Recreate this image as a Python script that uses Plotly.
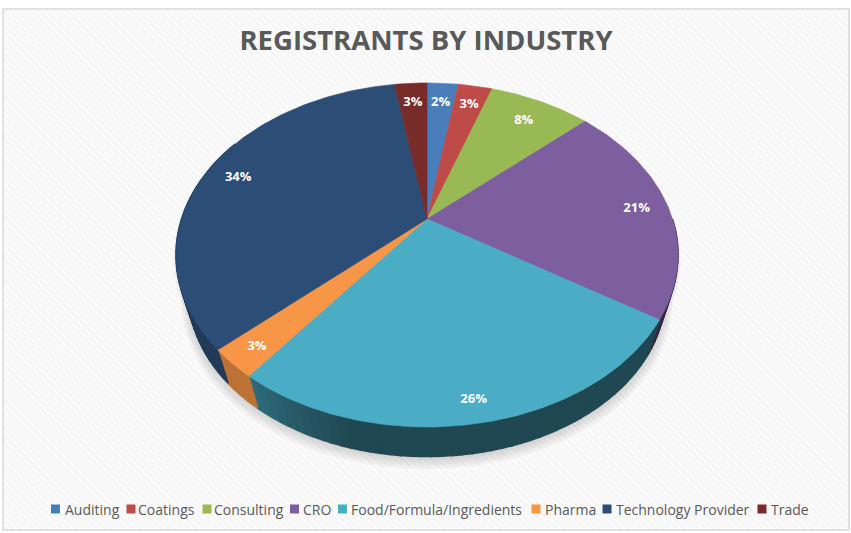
import math
import plotly.graph_objects as go

# ---- data ----
categories = ["Auditing", "Coatings", "Consulting", "CRO", "Food/Formula/Ingredients",
              "Pharma", "Technology Provider", "Trade"]
values = [2.45, 2.7, 8.0, 21.0, 26.2, 2.7, 34.4, 2.55]
colors = ["#4a7ebb", "#be4b48", "#98b954", "#7d5fa0", "#4bacc6", "#f79646", "#2c4d75", "#772c2a"]
title_text = "REGISTRANTS BY INDUSTRY"

# ---- layout geometry (pixels of the 851x533 page) ----
W, H = 851, 533
CX, CY = 427, 219          # pie apex on the page
A, B, K = 245.5, 164.5, 0.209   # perspective disc parameters
WALL_SCALE, WALL_DROP = 0.95, 40
label_radius = [0.85, 0.85, 0.83, 0.87, 0.90, 0.89, 0.86, 0.85]
LABEL_DROP = 2
legend_swatch_x = [55.5, 131, 207, 294.5, 342.5, 536, 607, 762]
legend_text_x = [65, 138, 214, 303, 351, 545, 616, 771]
LEGEND_Y = 509


def rgb(hex_color, f=1.0):
    r, g, b = (int(hex_color[i:i + 2], 16) for i in (1, 3, 5))
    return f"rgb({round(r * f)},{round(g * f)},{round(b * f)})"


def disc(theta_deg, r=1.0, scale=1.0, drop=0.0):
    t = math.radians(theta_deg)
    x, y = r * math.sin(t), r * math.cos(t)
    w = 1 + K * y
    return CX + scale * A * x / w, CY + drop - scale * B * y / w


def wall_shade(theta):
    if theta < 195:
        return 0.42
    if theta < 217.5:
        return 0.42 + 0.20 * (theta - 195) / 22.5
    return 0.76


def arc(a0, a1, **kw):
    n = max(2, int(abs(a1 - a0)) + 2)
    return [disc(a0 + (a1 - a0) * i / (n - 1), **kw) for i in range(n)]


total = sum(values)
edges = [0.0]
for v in values:
    edges.append(edges[-1] + v / total * 360)

fig = go.Figure()


def poly(pts, color, line=None, width=0.6):
    xs = [p[0] for p in pts] + [pts[0][0]]
    ys = [p[1] for p in pts] + [pts[0][1]]
    fig.add_trace(go.Scatter(x=xs, y=ys, mode="lines", fill="toself", fillcolor=color,
                             line=dict(width=width if line else 0, color=line or color),
                             hoverinfo="skip", showlegend=False))


# striped chart panel
fig.add_trace(go.Scatter(
    x=[3, 849, 849, 3, 3], y=[9, 9, 530, 530, 9], mode="lines", fill="toself",
    fillcolor="#ffffff", line=dict(color="#d9d9d9", width=1.5),
    fillpattern=dict(shape="\\", size=5, solidity=0.45, fgcolor="#f0f0f0", bgcolor="#fbfbfb"),
    hoverinfo="skip", showlegend=False))

# soft shadow beneath the pie
for i in range(6):
    grow = 1.0 + 0.006 * i
    poly(arc(0, 360, scale=WALL_SCALE * grow, drop=WALL_DROP + 2 + i), "rgba(60,60,60,0.035)")
for i in range(3):
    poly(arc(0, 360, scale=1 + 0.005 * i, drop=2 + i), "rgba(60,60,60,0.04)")

# side wall: thin shaded strips following the slices
for c, a0, a1 in zip(colors, edges[:-1], edges[1:]):
    lo, hi = max(a0, 90), min(a1, 300)
    if hi <= lo:
        continue
    steps = max(1, int((hi - lo) / 2))
    for j in range(steps):
        s0 = lo + (hi - lo) * j / steps
        s1 = lo + (hi - lo) * (j + 1) / steps
        col = rgb(c, wall_shade((s0 + s1) / 2))
        pts = arc(s0, s1) + arc(s1, s0, scale=WALL_SCALE, drop=WALL_DROP)
        poly(pts, col, line=col, width=1.5)

# top face
for c, a0, a1 in zip(colors, edges[:-1], edges[1:]):
    poly([(CX, CY)] + arc(a0, a1), c, line=c)

# percentage labels
mids = [(a0 + a1) / 2 for a0, a1 in zip(edges[:-1], edges[1:])]
label_pts = [disc(m, r=r, drop=LABEL_DROP) for m, r in zip(mids, label_radius)]
fig.add_trace(go.Scatter(
    x=[p[0] for p in label_pts], y=[p[1] for p in label_pts], mode="text",
    text=[f"{round(v / total * 100)}%" for v in values],
    textposition="middle center",
    textfont=dict(family="Open Sans", size=13, color="#ffffff", weight="bold"),
    hoverinfo="skip", showlegend=False))

# bottom key
fig.add_trace(go.Scatter(
    x=legend_swatch_x, y=[LEGEND_Y] * len(categories), mode="markers",
    marker=dict(symbol="square", size=9, color=colors, line=dict(width=0)),
    hoverinfo="skip", showlegend=False))
for name, x in zip(categories, legend_text_x):
    fig.add_annotation(x=x, y=LEGEND_Y, xref="x", yref="y", text=name, showarrow=False,
                       xanchor="left", yanchor="middle", xshift=-2,
                       font=dict(family="Open Sans", size=14, color="#595959"))

fig.update_layout(
    width=W, height=H, margin=dict(l=0, r=0, t=0, b=0),
    paper_bgcolor="#ffffff", plot_bgcolor="#ffffff", showlegend=False,
    title=dict(text=title_text, x=426 / W, y=1 - 40 / H, xanchor="center", yanchor="middle",
               font=dict(family="Open Sans", size=27.5, color="#595959", weight="bold")),
    xaxis=dict(range=[0, W], visible=False, fixedrange=True),
    yaxis=dict(range=[H, 0], visible=False, fixedrange=True),
)
fig.write_html("out.html", config={"displayModeBar": False},
               post_script="document.body.style.margin='0';document.documentElement.style.overflow='hidden';")
